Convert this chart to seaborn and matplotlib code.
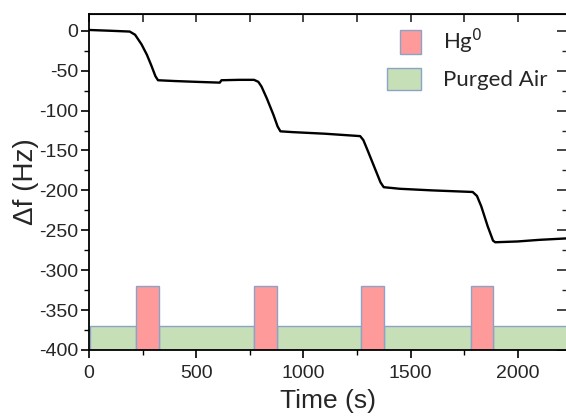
import matplotlib
matplotlib.use("Agg")
import matplotlib.pyplot as plt
from matplotlib.patches import Patch, Rectangle
from matplotlib.legend_handler import HandlerPatch
from matplotlib.ticker import MultipleLocator
import seaborn as sns
import pandas as pd

# QCM frequency response during alternating Hg0 / purged-air exposure
time_s = [0, 100, 190, 215, 245, 270, 290, 310, 322, 400, 500, 610, 618, 700,
          770, 790, 805, 830, 860, 880, 893, 950, 1100, 1265, 1280, 1300, 1330,
          1360, 1375, 1450, 1600, 1790, 1810, 1830, 1860, 1885, 1895, 2000,
          2100, 2240]
delta_f = [1, 0, -1, -5, -17, -30, -43, -57, -62, -63, -64, -65, -62, -61.5,
           -61.5, -64, -70, -85, -105, -120, -126, -127, -129, -132, -137, -150,
           -170, -190, -196, -198, -200, -202, -207, -220, -245, -263, -265,
           -264, -262, -260]

# gas exposure schedule (s)
hg_start = [219, 771, 1269, 1781]
hg_end = [327, 879, 1374, 1887]
air_start = [3, 327, 879, 1374, 1887]
air_end = [219, 771, 1269, 1781, 2240]
hg_level = -320
air_level = -370
base_level = -400

sns.set_style("ticks")
plt.rcParams["font.family"] = ["Liberation Sans", "DejaVu Sans"]
plt.rcParams["axes.unicode_minus"] = False

fig = plt.figure(figsize=(5.66, 4.16), dpi=100)
ax = fig.add_axes([89 / 566, 66 / 416, (567 - 89) / 566, (350 - 14) / 416])

pink = "#ff9a9a"
green = "#c6dfb6"
edge = "#8aa3c6"

air_w = [e - s for s, e in zip(air_start, air_end)]
ax.bar(air_start, [air_level - base_level] * len(air_start), width=air_w,
       bottom=base_level, align="edge", color=green, edgecolor=edge,
       linewidth=1.0, zorder=1)
hg_w = [e - s for s, e in zip(hg_start, hg_end)]
ax.bar(hg_start, [hg_level - base_level] * len(hg_start), width=hg_w,
       bottom=base_level, align="edge", color=pink, edgecolor=edge,
       linewidth=1.0, zorder=2)

df = pd.DataFrame({"t": time_s, "f": delta_f})
sns.lineplot(data=df, x="t", y="f", ax=ax, color="black", linewidth=1.7,
             zorder=3, estimator=None)

ax.set_xlim(0, 2230)
ax.set_ylim(-400, 21)
ax.xaxis.set_major_locator(MultipleLocator(500))
ax.xaxis.set_minor_locator(MultipleLocator(250))
ax.yaxis.set_major_locator(MultipleLocator(50))
ax.yaxis.set_minor_locator(MultipleLocator(25))

for s in ax.spines.values():
    s.set_linewidth(1.3)
    s.set_color("black")
    s.set_visible(True)

ax.tick_params(axis="both", which="major", direction="out", length=6,
               width=1.2, labelsize=14, color="black")
ax.tick_params(axis="x", which="major", pad=5)
ax.tick_params(axis="y", which="major", pad=2)
ax.tick_params(axis="both", which="minor", direction="out", length=3.5,
               width=1.0, color="black")

# mirrored ticks on top and right point inward
ax2 = ax.secondary_xaxis("top")
ax2.xaxis.set_major_locator(MultipleLocator(250))
ax2.tick_params(direction="in", length=6, width=1.2, labeltop=False)
ax3 = ax.secondary_yaxis("right")
ax3.yaxis.set_major_locator(MultipleLocator(50))
ax3.yaxis.set_minor_locator(MultipleLocator(25))
ax3.tick_params(which="major", direction="in", length=7, width=1.2,
                labelright=False)
ax3.tick_params(which="minor", direction="in", length=3.5, width=1.0)
ax.tick_params(top=False, right=False, which="both")

ax.set_xlabel("Time (s)", fontsize=19, labelpad=5)
ax.set_ylabel("Δf (Hz)", fontsize=20, labelpad=0)


def hg_box(legend, orig_handle, xdescent, ydescent, width, height, fontsize):
    return Rectangle((-xdescent + width * 0.39, -ydescent), width * 0.61, height)


def air_box(legend, orig_handle, xdescent, ydescent, width, height, fontsize):
    return Rectangle((-xdescent, -ydescent + height * 0.06), width, height * 0.88)


h_hg = Patch(facecolor=pink, edgecolor=edge, linewidth=1.0)
h_air = Patch(facecolor=green, edgecolor=edge, linewidth=1.0)
ax.legend([h_hg, h_air], ["Hg$^0$", "Purged Air"],
          handler_map={h_hg: HandlerPatch(patch_func=hg_box),
                       h_air: HandlerPatch(patch_func=air_box)},
          loc="upper left", bbox_to_anchor=(387 / 566, 1 - 27 / 416),
          bbox_transform=fig.transFigure, frameon=False, borderpad=0,
          borderaxespad=0, handlelength=1.55, handleheight=1.35,
          handletextpad=0.95, labelspacing=0.45,
          prop={"family": ["Lato", "DejaVu Sans"], "size": 16})

fig.savefig("out.png", dpi=100)
